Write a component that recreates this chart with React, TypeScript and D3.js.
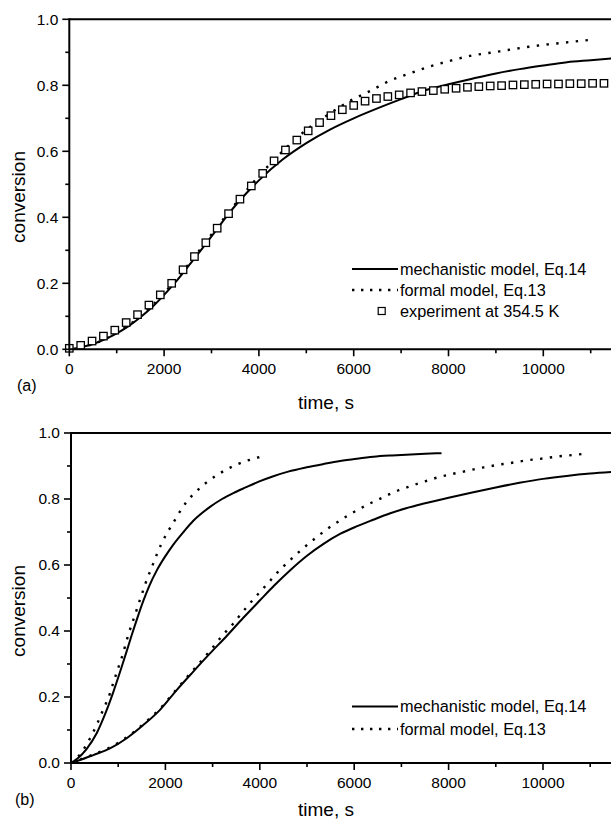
import React from "react";
import * as d3 from "d3";

// ---------- data ----------
const xTicksMajor = [0, 2000, 4000, 6000, 8000, 10000];
const xTicksMinor = [1000, 3000, 5000, 7000, 9000, 11000];
const yTicksMajor = [0, 0.2, 0.4, 0.6, 0.8, 1.0];
const yTicksMinor = [0.1, 0.3, 0.5, 0.7, 0.9];

// panel (a)
const mechA: [number, number][] = [
  [0, 0], [250, 0.006], [500, 0.016], [750, 0.03], [1000, 0.048], [1250, 0.07], [1500, 0.097],
  [1750, 0.128], [2000, 0.165], [2250, 0.205], [2500, 0.25], [2750, 0.295], [3000, 0.342],
  [3250, 0.39], [3500, 0.435], [3750, 0.475], [4000, 0.512], [4500, 0.575], [5000, 0.625],
  [5500, 0.666], [6000, 0.7], [6500, 0.73], [7000, 0.758], [7500, 0.785], [8000, 0.803],
  [8500, 0.82], [9000, 0.836], [9500, 0.849], [10000, 0.86], [10500, 0.87], [11000, 0.876],
  [11500, 0.882],
];
const formalA: [number, number][] = [
  [0, 0], [500, 0.016], [1000, 0.05], [1500, 0.1], [2000, 0.17], [2500, 0.255], [3000, 0.348],
  [3500, 0.44], [4000, 0.525], [4500, 0.6], [5000, 0.665], [5500, 0.715], [5950, 0.755],
  [6350, 0.783], [6750, 0.813], [7200, 0.837], [7600, 0.857], [8000, 0.873], [8450, 0.889],
  [8900, 0.899], [9300, 0.908], [9700, 0.917], [10100, 0.924], [10550, 0.931], [11000, 0.938],
];
const expTimes = [
  0, 240, 480, 720, 960, 1200, 1440, 1680, 1920, 2160, 2400, 2640, 2880, 3120, 3360, 3600,
  3840, 4080, 4320, 4560, 4800, 5040, 5280, 5520, 5760, 6000, 6240, 6480, 6720, 6960, 7200,
  7440, 7680, 7920, 8160, 8400, 8640, 8880, 9120, 9360, 9600, 9840, 10080, 10320, 10560,
  10800, 11040, 11280,
];
const expValues = [
  0.003, 0.012, 0.025, 0.04, 0.058, 0.081, 0.105, 0.134, 0.165, 0.2, 0.241, 0.281, 0.323,
  0.367, 0.411, 0.455, 0.495, 0.533, 0.571, 0.604, 0.634, 0.662, 0.687, 0.708, 0.726, 0.739,
  0.752, 0.76, 0.766, 0.771, 0.777, 0.781, 0.784, 0.788, 0.791, 0.794, 0.796, 0.798, 0.799,
  0.801, 0.802, 0.803, 0.804, 0.804, 0.805, 0.805, 0.806, 0.806,
];

// panel (b)
const mechFastB: [number, number][] = [
  [0, 0], [150, 0.015], [333, 0.043], [544, 0.09], [685, 0.135], [800, 0.177], [896, 0.215],
  [1000, 0.259], [1073, 0.291], [1180, 0.339], [1285, 0.387], [1356, 0.418], [1426, 0.448],
  [1532, 0.491], [1650, 0.534], [1815, 0.583], [2000, 0.627], [2168, 0.662], [2400, 0.703],
  [2591, 0.734], [2945, 0.776], [3200, 0.8], [3439, 0.818], [3700, 0.835], [4004, 0.854],
  [4287, 0.869], [4600, 0.883], [4993, 0.896], [5350, 0.906], [5699, 0.915], [6050, 0.922],
  [6405, 0.928], [6800, 0.932], [7200, 0.935], [7500, 0.937], [7850, 0.939],
];
const formalFastB: [number, number][] = [
  [0, 0], [100, 0.012], [205, 0.029], [346, 0.06], [459, 0.09], [558, 0.12], [650, 0.151],
  [742, 0.181], [826, 0.211], [896, 0.243], [968, 0.274], [1038, 0.304], [1108, 0.334],
  [1165, 0.365], [1229, 0.395], [1299, 0.425], [1370, 0.455], [1441, 0.486], [1510, 0.515],
  [1580, 0.545], [1660, 0.575], [1744, 0.605], [1830, 0.636], [1921, 0.666], [2040, 0.698],
  [2168, 0.728], [2300, 0.76], [2451, 0.792], [2627, 0.819], [2853, 0.848], [3065, 0.87],
  [3277, 0.888], [3489, 0.903], [3701, 0.915], [3898, 0.923], [4110, 0.933],
];
const mechSlowB: [number, number][] = [
  [0, 0], [250, 0.012], [473, 0.024], [826, 0.044], [1180, 0.075], [1532, 0.115], [1886, 0.161],
  [2239, 0.221], [2591, 0.277], [2945, 0.332], [3299, 0.385], [3651, 0.44], [4004, 0.493],
  [4300, 0.537], [4650, 0.585], [5000, 0.628], [5350, 0.664], [5700, 0.694], [6050, 0.717],
  [6400, 0.737], [6750, 0.756], [7100, 0.772], [7500, 0.787], [8000, 0.804], [8500, 0.82],
  [9000, 0.835], [9500, 0.849], [10000, 0.861], [10500, 0.87], [11000, 0.877], [11500, 0.882],
];
const formalSlowB: [number, number][] = [
  [0, 0], [473, 0.026], [826, 0.047], [1180, 0.078], [1532, 0.118], [1886, 0.165],
  [2239, 0.224], [2591, 0.282], [2945, 0.34], [3200, 0.385], [3439, 0.423], [3616, 0.454],
  [3792, 0.484], [3990, 0.516], [4180, 0.546], [4371, 0.577], [4583, 0.607], [4795, 0.635],
  [5028, 0.664], [5254, 0.69], [5466, 0.713], [5678, 0.733], [5890, 0.752], [6102, 0.769],
  [6314, 0.785], [6525, 0.799], [6737, 0.814], [6949, 0.827], [7161, 0.837], [7373, 0.848],
  [7585, 0.857], [7782, 0.866], [7994, 0.873], [8206, 0.88], [8418, 0.886], [8629, 0.893],
  [8841, 0.898], [9053, 0.904], [9265, 0.908], [9477, 0.913], [9689, 0.918], [9901, 0.921],
  [10113, 0.925], [10324, 0.929], [10536, 0.932], [10748, 0.935], [10960, 0.938],
];

const legendMech = "mechanistic model, Eq.14";
const legendFormal = "formal model, Eq.13";
const legendExp = "experiment at 354.5 K";

// ---------- drawing ----------
const FONT = "'Liberation Sans', Arial, Helvetica, sans-serif";
const W = 611;
const H = 823;

type PanelProps = {
  x0: number;
  x1: number;
  yBottom: number;
  yTop: number;
  label: string;
  labelX: number;
  labelY: number;
  xTitleY: number;
  yTitleY: number;
  solids: [number, number][][];
  dotteds: [number, number][][];
  squares?: boolean;
  legendY: number;
  legendGap: number;
};

function Panel(p: PanelProps) {
  const x = d3.scaleLinear().domain([0, 11500]).range([p.x0, p.x1]);
  const y = d3.scaleLinear().domain([0, 1]).range([p.yBottom, p.yTop]);
  const line = d3
    .line<[number, number]>()
    .x((d) => x(d[0]))
    .y((d) => y(d[1]))
    .curve(d3.curveMonotoneX);
  const ax = x(0);
  const lx1 = 352;
  const lx2 = 398;
  const tx = 400;
  return (
    <g>
      {p.solids.map((s, i) => (
        <path key={"s" + i} d={line(s) || ""} fill="none" stroke="#000" strokeWidth={2} />
      ))}
      {p.dotteds.map((s, i) => (
        <path
          key={"d" + i}
          d={line(s) || ""}
          fill="none"
          stroke="#000"
          strokeWidth={2.4}
          strokeDasharray="2.4 7.4"
        />
      ))}
      {p.squares &&
        expTimes.map((t, i) => (
          <rect
            key={"q" + i}
            x={x(t) - 3.7}
            y={y(expValues[i]) - 3.7}
            width={7.4}
            height={7.4}
            fill="#fff"
            stroke="#000"
            strokeWidth={1.3}
          />
        ))}
      {/* axes */}
      <line x1={ax} x2={W + 5} y1={y(1)} y2={y(1)} stroke="#000" strokeWidth={2} />
      <line x1={ax} x2={W + 5} y1={y(0)} y2={y(0)} stroke="#000" strokeWidth={2} />
      <line x1={ax} x2={ax} y1={y(1) - 1} y2={y(0) + 1} stroke="#000" strokeWidth={2} />
      {yTicksMajor.map((v) => (
        <g key={"ym" + v}>
          <line x1={ax - 7} x2={ax} y1={y(v)} y2={y(v)} stroke="#000" strokeWidth={1.6} />
          <text
            x={ax - 11}
            y={y(v) + 5.3}
            textAnchor="end"
            fontFamily={FONT}
            fontSize={15.5}
            fill="#000"
          >
            {v.toFixed(1)}
          </text>
        </g>
      ))}
      {yTicksMinor.map((v) => (
        <line key={"yn" + v} x1={ax - 4} x2={ax} y1={y(v)} y2={y(v)} stroke="#000" strokeWidth={1.6} />
      ))}
      {xTicksMajor.map((v) => (
        <g key={"xm" + v}>
          <line x1={x(v)} x2={x(v)} y1={y(0)} y2={y(0) + 7} stroke="#000" strokeWidth={1.6} />
          <text
            x={x(v)}
            y={y(0) + 25}
            textAnchor="middle"
            fontFamily={FONT}
            fontSize={15.5}
            fill="#000"
          >
            {v}
          </text>
        </g>
      ))}
      {xTicksMinor.map((v) => (
        <line key={"xn" + v} x1={x(v)} x2={x(v)} y1={y(0)} y2={y(0) + 4} stroke="#000" strokeWidth={1.6} />
      ))}
      {/* titles */}
      <text
        x={326}
        y={p.xTitleY}
        textAnchor="middle"
        fontFamily={FONT}
        fontSize={19}
        fill="#000"
      >
        time, s
      </text>
      <text
        transform={`translate(25,${p.yTitleY}) rotate(-90)`}
        textAnchor="middle"
        fontFamily={FONT}
        fontSize={19}
        fill="#000"
      >
        conversion
      </text>
      <text x={p.labelX} y={p.labelY} fontFamily={FONT} fontSize={16} fill="#000">
        {p.label}
      </text>
      {/* legend */}
      <g fontFamily={FONT} fontSize={16.3} fill="#000">
        <line x1={lx1} x2={lx2} y1={p.legendY} y2={p.legendY} stroke="#000" strokeWidth={2} />
        <text x={tx} y={p.legendY + 5.5}>{legendMech}</text>
        <line
          x1={lx1}
          x2={lx2}
          y1={p.legendY + p.legendGap}
          y2={p.legendY + p.legendGap}
          stroke="#000"
          strokeWidth={2.4}
          strokeDasharray="2.4 6.6"
        />
        <text x={tx} y={p.legendY + p.legendGap + 5.5}>{legendFormal}</text>
        {p.squares && (
          <>
            <rect
              x={381.7 - 3.5}
              y={p.legendY + 2 * p.legendGap - 3.5}
              width={7}
              height={7}
              fill="#fff"
              stroke="#000"
              strokeWidth={1.2}
            />
            <text x={tx} y={p.legendY + 2 * p.legendGap + 5.5}>{legendExp}</text>
          </>
        )}
      </g>
    </g>
  );
}

export default function App() {
  return (
    <svg
      width={W}
      height={H}
      viewBox={`0 0 ${W} ${H}`}
      style={{ position: "absolute", left: 0, top: 0, background: "#fff" }}
    >
      <rect x={0} y={0} width={W} height={H} fill="#fff" />
      <Panel
        x0={69.3}
        x1={69.3 + 11.5 * 47.4}
        yBottom={349.3}
        yTop={19.3}
        label="(a)"
        labelX={17}
        labelY={391}
        xTitleY={409}
        yTitleY={197}
        solids={[mechA]}
        dotteds={[formalA]}
        squares
        legendY={269}
        legendGap={21}
      />
      <Panel
        x0={71}
        x1={71 + 11.5 * 47.2}
        yBottom={763}
        yTop={433}
        label="(b)"
        labelX={15}
        labelY={805}
        xTitleY={816}
        yTitleY={611}
        solids={[mechFastB, mechSlowB]}
        dotteds={[formalFastB, formalSlowB]}
        legendY={706.5}
        legendGap={22.5}
      />
    </svg>
  );
}
